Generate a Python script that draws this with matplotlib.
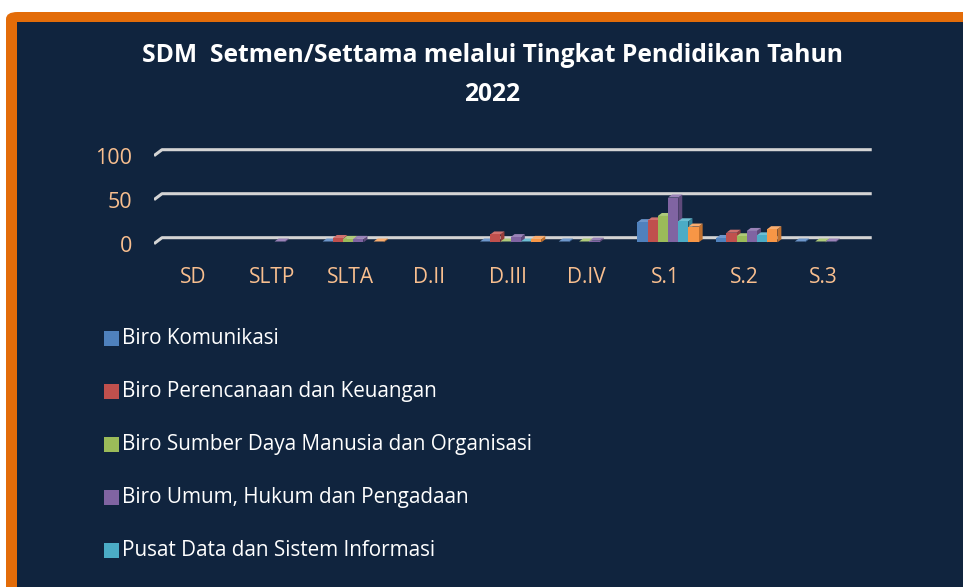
import numpy as np
import matplotlib
matplotlib.use("Agg")
import matplotlib.pyplot as plt
from matplotlib.patches import Rectangle, Polygon, FancyBboxPatch

plt.rcParams['font.family'] = ['Open Sans', 'DejaVu Sans']

categories = ['SD', 'SLTP', 'SLTA', 'D.II', 'D.III', 'D.IV', 'S.1', 'S.2', 'S.3']
series_names = ['Biro Komunikasi',
                'Biro Perencanaan dan Keuangan',
                'Biro Sumber Daya Manusia dan Organisasi',
                'Biro Umum, Hukum dan Pengadaan',
                'Pusat Data dan Sistem Informasi',
                'Pusat Pendidikan dan Pelatihan']
komunikasi = [0, 0, 1, 0, 1, 1, 23, 5, 1]
perencanaan = [0, 0, 5, 0, 9, 0, 25, 11, 0]
sdm = [0, 0, 4, 0, 1, 1, 30, 7, 1]
umum = [0, 1, 4, 0, 6, 2, 51, 13, 1]
pusdatin = [0, 0, 0, 0, 1, 0, 24, 8, 0]
lainnya = [0, 0, 1, 0, 4, 0, 18, 15, 0]
yticks = [0, 50, 100]

values = [komunikasi, perencanaan, sdm, umum, pusdatin, lainnya]
colors = ['#4F81BD', '#C0504D', '#9BBB59', '#8064A2', '#4BACC6', '#F79646']
side_colors = ['#3A6496', '#963D3A', '#769045', '#5F4A7B', '#34849A', '#C0702F']
top_colors = ['#6E97CB', '#D0716E', '#AFCA7A', '#9A83B8', '#6EBFD4', '#F9AD6F']

navy = '#10243E'
orange = '#E36C09'
peach = '#F9BF8F'
grid_col = '#D4D4D4'

W, H = 963, 587
fig = plt.figure(figsize=(W / 100, H / 100), dpi=100)
fig.patch.set_facecolor('white')

# frame: orange border + navy panel
fig.patches.append(FancyBboxPatch((6 / W, -0.1), 1.1, (H - 12) / H + 0.1,
                                  boxstyle='round,pad=0,rounding_size=0.012',
                                  transform=fig.transFigure, facecolor=orange,
                                  edgecolor='none', zorder=0))
fig.patches.append(Rectangle((17 / W, -0.1), 1.1, (H - 22) / H + 0.1,
                             transform=fig.transFigure, facecolor=navy,
                             edgecolor='none', zorder=0.5))

fig.text(492 / W, 1 - 75 / H, 'SDM  Setmen/Settama melalui Tingkat Pendidikan Tahun\n2022',
         ha='center', va='center', color='white', fontsize=17.7, fontweight='bold',
         linespacing=1.75, zorder=3)

# axes placement (pixel based)
px_cat = 78.7
px_val = 0.88
ylo, yhi = -3, 110
xr = 9.12
ax_left = 154
ax_bottom = 243.7 - ylo * px_val
ax_top = 243.7 - yhi * px_val
ax = fig.add_axes([ax_left / W, 1 - ax_bottom / H, xr * px_cat / W, (ax_bottom - ax_top) / H])
ax.set_zorder(2)
ax.set_xlim(0, xr)
ax.set_ylim(ylo, yhi)
ax.patch.set_visible(False)
for s in ax.spines.values():
    s.set_visible(False)

# gridlines with the 3D floor stub
gdx = 8 / px_cat
gdy = 6 / px_val
for v in yticks:
    ax.plot([0, gdx, xr], [v, v + gdy, v + gdy], color=grid_col, lw=2.2,
            solid_capstyle='butt', zorder=1)

# 3D bars
w = 10.2 / px_cat
shift = 2.5 / px_cat
bdx = 4 / px_cat
bdy = 3 / px_val
base = 1.5
ncat = len(categories)
for i in range(ncat):
    c = i + 0.5 + shift
    for j, vals in enumerate(values):
        v = vals[i]
        if v <= 0:
            continue
        x0 = c - 3 * w + j * w
        z = 2 + i * 0.01 + j * 0.001
        ax.add_patch(Polygon([(x0 + w, base), (x0 + w + bdx, base + bdy),
                              (x0 + w + bdx, base + v + bdy), (x0 + w, base + v)],
                             closed=True, facecolor=side_colors[j], edgecolor='none', zorder=z))
        ax.add_patch(Polygon([(x0, base + v), (x0 + bdx, base + v + bdy),
                              (x0 + w + bdx, base + v + bdy), (x0 + w, base + v)],
                             closed=True, facecolor=top_colors[j], edgecolor='none', zorder=z))
        ax.add_patch(Rectangle((x0, base), w, v, facecolor=colors[j],
                               edgecolor='none', zorder=z))

ax.set_xticks(np.arange(ncat) + 0.5)
ax.set_xticklabels(categories)
ax.set_yticks(yticks)
ax.set_yticklabels([str(t) for t in yticks])
ax.tick_params(axis='x', length=0, pad=15, labelsize=15, labelcolor=peach)
ax.tick_params(axis='y', length=0, pad=16, labelsize=15.5, labelcolor=peach)

# legend, one entry per row (the last one falls below the visible area, as in the source)
for j, name in enumerate(series_names):
    yc = 338 + j * 53.2
    fig.patches.append(Rectangle((104 / W, 1 - (yc + 7.5) / H), 15 / W, 15 / H,
                                 transform=fig.transFigure, facecolor=colors[j],
                                 edgecolor='none', zorder=3))
    fig.text(122 / W, 1 - yc / H, name, ha='left', va='center', color='white',
             fontsize=14.9, zorder=3)

fig.savefig('out.png', dpi=100, facecolor=fig.get_facecolor())
